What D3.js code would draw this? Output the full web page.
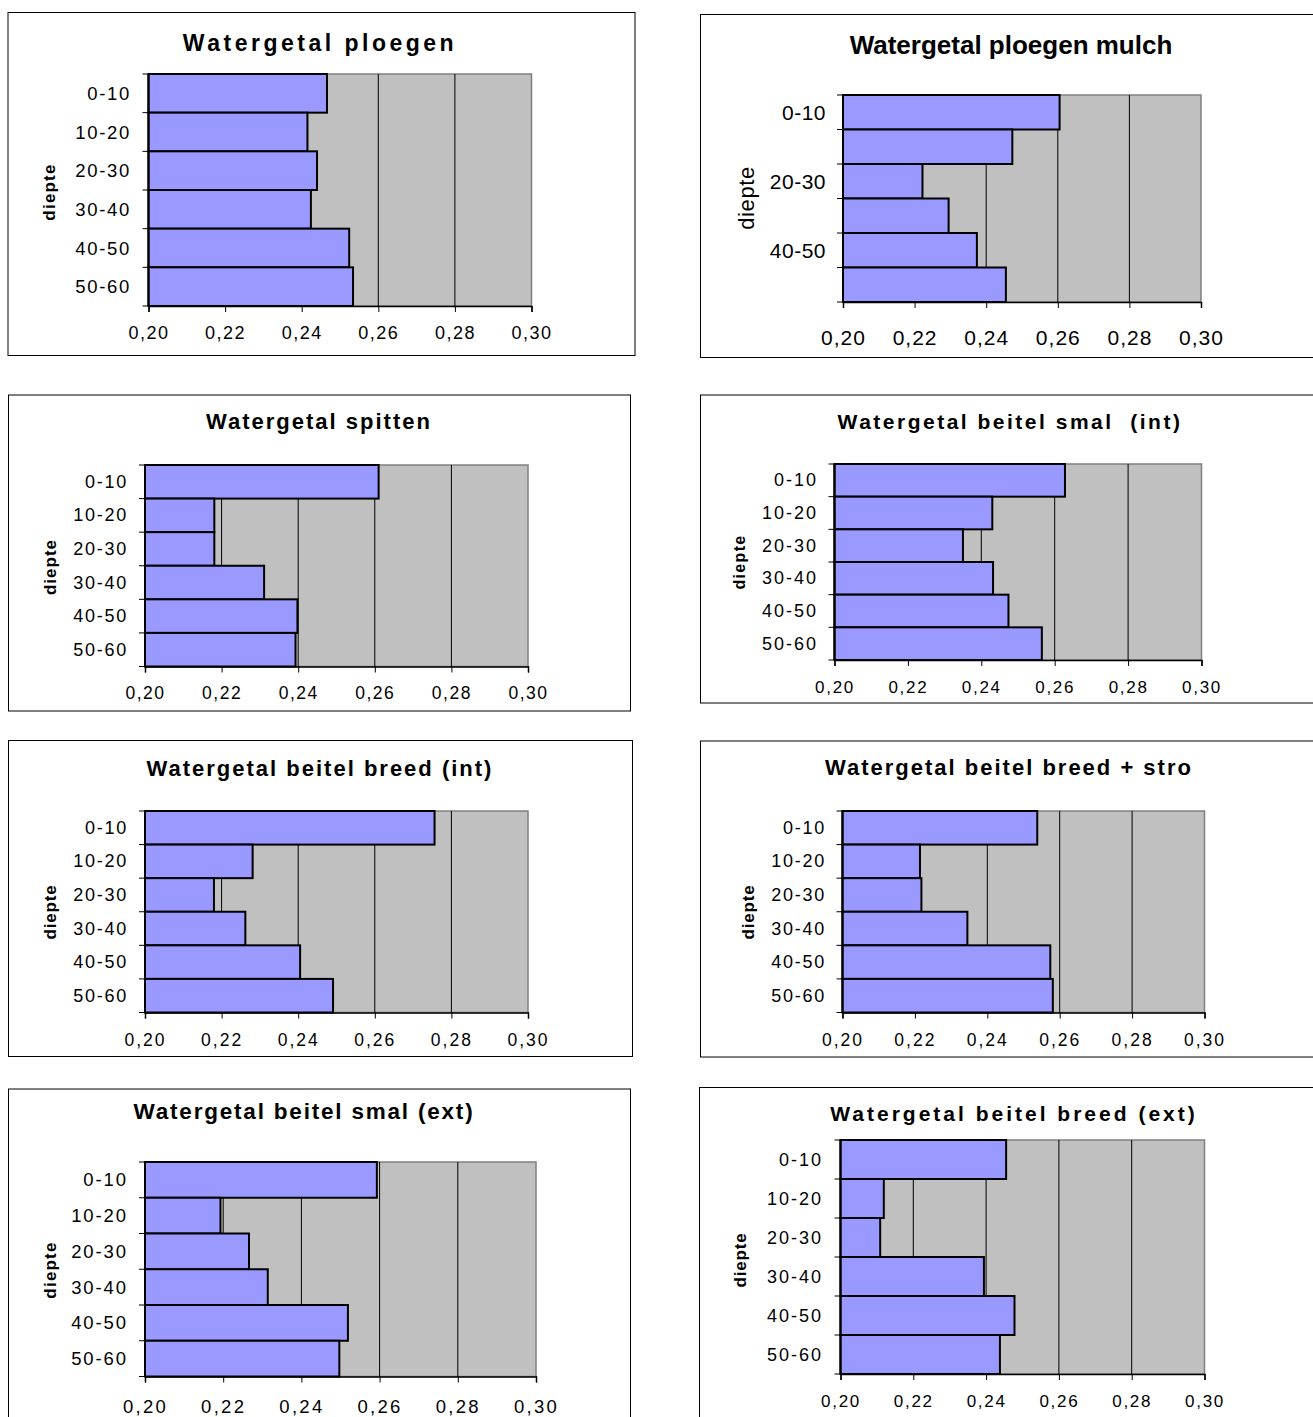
<!DOCTYPE html>
<html><head><meta charset="utf-8">
<script src="https://cdn.jsdelivr.net/npm/d3@7"></script>
<style>body{margin:0;background:#fff}svg{display:block}text{font-family:"Liberation Sans",Arial,sans-serif;fill:#000;white-space:pre}</style>
</head><body><svg id="c" width="1313" height="1417"></svg>
<script>
// ---- data ----
const categories = ["0-10","10-20","20-30","30-40","40-50","50-60"];
const xTicks = [0.20,0.22,0.24,0.26,0.28,0.30];
const xDomain = [0.20,0.30];
const axisLabel = "diepte";
const titles = [
  "Watergetal ploegen",
  "Watergetal ploegen mulch",
  "Watergetal spitten",
  "Watergetal beitel smal  (int)",
  "Watergetal beitel breed (int)",
  "Watergetal beitel breed + stro",
  "Watergetal beitel smal (ext)",
  "Watergetal beitel breed (ext)"
];
const ploegen          = [0.2466,0.2415,0.2440,0.2424,0.2524,0.2534];
const ploegenMulch     = [0.2605,0.2473,0.2222,0.2295,0.2374,0.2455];
const spitten          = [0.2610,0.2181,0.2181,0.2311,0.2398,0.2393];
const beitelSmalInt    = [0.2628,0.2430,0.2350,0.2432,0.2474,0.2565];
const beitelBreedInt   = [0.2756,0.2281,0.2180,0.2262,0.2405,0.2491];
const beitelBreedStro  = [0.2538,0.2214,0.2218,0.2345,0.2574,0.2581];
const beitelSmalExt    = [0.2593,0.2193,0.2266,0.2314,0.2519,0.2497];
const beitelBreedExt   = [0.2455,0.2119,0.2109,0.2394,0.2478,0.2438];
const series = [ploegen, ploegenMulch, spitten, beitelSmalInt, beitelBreedInt, beitelBreedStro, beitelSmalExt, beitelBreedExt];

// ---- layout (positions / styles only) ----
const layouts = [
  {fx:8,fy:12.5,fw:627,fh:343, px:148.5,py:74,pw:383,ph:232, ty:42.5,tcx:320,tfs:23,tls:3.5, tickY:333,tfsz:18,tkls:1.5, catR:131,cfs:18.5,cls:1.7, dx:49,dy:192,dfs:17,dls:1.2,dBold:true, every:1},
  {fx:700.5,fy:14.5,fw:640,fh:343, px:843,py:95,pw:358,ph:207, ty:45,tcx:1011,tfs:26,tls:0, tickY:337,tfsz:21,tkls:1, catR:826,cfs:21,cls:0.5, dx:746,dy:198,dfs:22,dls:0.6,dBold:false, every:2},
  {fx:8.5,fy:395,fw:622,fh:316, px:145,py:465,pw:383,ph:201.5, ty:421,tcx:319,tfs:22,tls:2, tickY:693,tfsz:17.5,tkls:1.5, catR:128,cfs:18,cls:1.75, dx:50,dy:567,dfs:17,dls:1,dBold:true, every:1},
  {fx:700.5,fy:395,fw:640,fh:308, px:834.5,py:464,pw:367,ph:196, ty:421,tcx:1010,tfs:21,tls:2.5, tickY:687,tfsz:17,tkls:1.7, catR:818,cfs:18,cls:2, dx:739,dy:562,dfs:16,dls:1.3,dBold:true, every:1},
  {fx:8.5,fy:740.5,fw:624,fh:316, px:145,py:811,pw:383,ph:201.5, ty:768,tcx:320,tfs:22,tls:2, tickY:1040,tfsz:17.5,tkls:2, catR:128,cfs:18,cls:1.75, dx:50,dy:912,dfs:17,dls:0.8,dBold:true, every:1},
  {fx:700.5,fy:741,fw:640,fh:316, px:842.5,py:811,pw:362,ph:201.5, ty:767,tcx:1009,tfs:22,tls:2, tickY:1040,tfsz:17.5,tkls:2, catR:826,cfs:18,cls:1.75, dx:748,dy:912,dfs:17,dls:0.8,dBold:true, every:1},
  {fx:8.5,fy:1089,fw:622,fh:360, px:145,py:1162,pw:391,ph:214.5, ty:1111,tcx:304,tfs:22.5,tls:1.8, tickY:1406,tfsz:18.5,tkls:2.3, catR:128,cfs:18.5,cls:1.9, dx:50,dy:1270,dfs:17,dls:1.2,dBold:true, every:1},
  {fx:699.5,fy:1087.5,fw:640,fh:360, px:840.5,py:1140,pw:364,ph:234, ty:1113,tcx:1014,tfs:21,tls:3, tickY:1401,tfsz:17,tkls:1.7, catR:823,cfs:18,cls:2, dx:740,dy:1260,dfs:17,dls:0.8,dBold:true, every:1}
];

const svg = d3.select("#c");
const fmt = v => d3.format(".2f")(v).replace(".", ",");

series.forEach((vals, i) => {
  const L = layouts[i];
  const g = svg.append("g");
  g.append("rect").attr("x",L.fx).attr("y",L.fy).attr("width",L.fw).attr("height",L.fh)
    .attr("fill","#fff").attr("stroke","#000").attr("stroke-width",1);
  g.append("text").attr("x",L.tcx).attr("y",L.ty).attr("text-anchor","middle").attr("dominant-baseline","central")
    .attr("font-weight","bold").attr("font-size",L.tfs).attr("letter-spacing",L.tls).text(titles[i]);

  const x = d3.scaleLinear().domain(xDomain).range([L.px, L.px+L.pw]);
  const y = d3.scaleBand().domain(categories).range([L.py, L.py+L.ph]).paddingInner(0).paddingOuter(0);

  g.append("rect").attr("x",L.px).attr("y",L.py).attr("width",L.pw).attr("height",L.ph)
    .attr("fill","#c0c0c0").attr("stroke","#808080").attr("stroke-width",1.5);
  // gridlines
  g.selectAll("line.grid").data(xTicks.slice(1,-1)).join("line")
    .attr("x1",d=>x(d)).attr("x2",d=>x(d)).attr("y1",L.py).attr("y2",L.py+L.ph)
    .attr("stroke","#000").attr("stroke-width",1);
  // bars
  g.selectAll("rect.bar").data(vals).join("rect").attr("class","bar")
    .attr("x",x(xDomain[0])).attr("y",(d,k)=>y(categories[k]))
    .attr("width",d=>x(d)-x(xDomain[0])).attr("height",y.bandwidth())
    .attr("fill","#9999ff").attr("stroke","#000").attr("stroke-width",2);

  // x axis
  const ax = g.append("g").attr("transform",`translate(0,${L.py+L.ph})`)
    .call(d3.axisBottom(x).tickValues(xTicks).tickFormat(fmt).tickSize(6).tickPadding(0));
  ax.select(".domain").attr("stroke","#000").attr("stroke-width",1.5);
  ax.selectAll(".tick line").attr("stroke","#000");
  ax.selectAll(".tick text").attr("y", L.tickY-(L.py+L.ph)).attr("dy",null).attr("dominant-baseline","central")
    .attr("font-size",L.tfsz).attr("letter-spacing",L.tkls).attr("font-family","Liberation Sans, Arial, sans-serif");

  // y axis: line + boundary ticks
  const bounds = categories.map(c=>y(c)).concat([L.py+L.ph]);
  g.append("line").attr("x1",L.px).attr("x2",L.px).attr("y1",L.py).attr("y2",L.py+L.ph)
    .attr("stroke","#000").attr("stroke-width",2);
  g.selectAll("line.yt").data(bounds).join("line")
    .attr("x1",L.px-6).attr("x2",L.px).attr("y1",d=>d).attr("y2",d=>d).attr("stroke","#000").attr("stroke-width",1);
  // category labels
  g.selectAll("text.cat").data(categories.filter((c,k)=>k%L.every===0)).join("text")
    .attr("x",L.catR).attr("y",c=>y(c)+y.bandwidth()/2).attr("text-anchor","end").attr("dominant-baseline","central")
    .attr("font-size",L.cfs).attr("letter-spacing",L.cls).text(c=>c);
  // axis title
  g.append("text").attr("transform",`translate(${L.dx},${L.dy}) rotate(-90)`).attr("text-anchor","middle")
    .attr("dominant-baseline","central").attr("font-size",L.dfs).attr("letter-spacing",L.dls)
    .attr("font-weight",L.dBold?"bold":"normal").text(axisLabel);
});
</script></body></html>
